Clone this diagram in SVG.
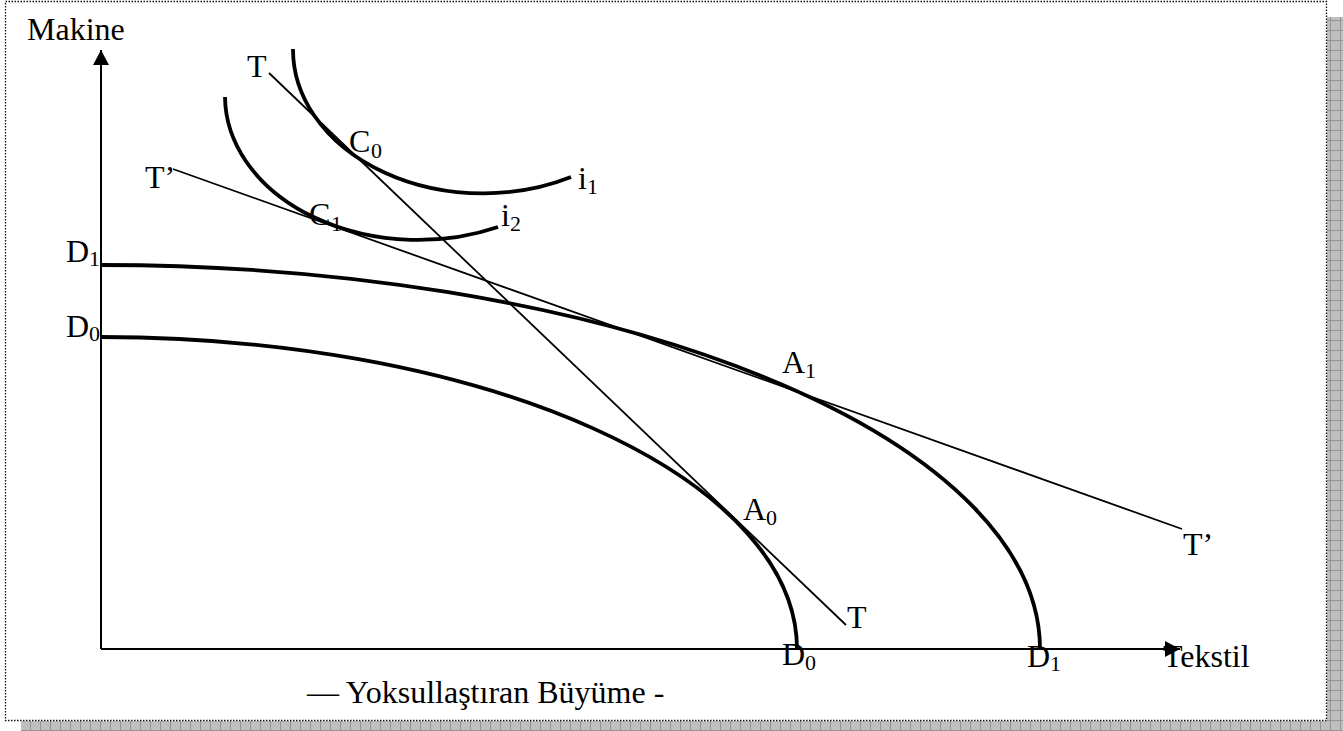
<svg xmlns="http://www.w3.org/2000/svg" width="1343" height="731" viewBox="0 0 1343 731">
<style>
text{font-family:"Liberation Serif","Times New Roman",serif;font-size:32px;fill:#000}
.sub{font-size:22px}
.curve{fill:none;stroke:#000;stroke-width:3.8}
.tline{fill:none;stroke:#000;stroke-width:1.8}
.axis{fill:none;stroke:#000;stroke-width:2}
</style>
<defs>
<pattern id="hatch" width="10" height="10" patternUnits="userSpaceOnUse">
<rect width="10" height="10" fill="#bfbfbf"/>
<path d="M0,0.5H10M0.5,0V10" stroke="#959595" stroke-width="1"/>
</pattern>
<marker id="arr" markerUnits="userSpaceOnUse" markerWidth="16" markerHeight="16" refX="15" refY="8" orient="auto">
<path d="M0,0L15,8L0,16z" fill="#000"/>
</marker>
</defs>
<rect width="1343" height="731" fill="#fff"/>
<g id="frame">
<rect x="1327" y="17" width="16" height="714" fill="url(#hatch)"/>
<rect x="21" y="721" width="1322" height="10" fill="url(#hatch)"/>
<rect x="5.5" y="1.5" width="1321" height="719" fill="none" stroke="#111" stroke-width="1.3" stroke-dasharray="1.5 1.5"/>
</g>
<g id="axes">
<path class="axis" d="M101,649V50" marker-end="url(#arr)"/>
<path class="axis" d="M101,649H1180" marker-end="url(#arr)"/>
</g>
<g id="connectors">
<path id="lineT" class="tline" d="M269,73L846,625"/>
<path id="lineTp" class="tline" d="M173,169L1182,529"/>
</g>
<g id="ppf-D1"><path class="curve" d="M101,265A939,384 0 0 1 1040,649"/></g>
<g id="ppf-D0"><path class="curve" d="M101,337A696,312 0 0 1 797,649"/></g>
<g id="i1"><path class="curve" d="M293,49A190,144 0 0 0 571,177"/></g>
<g id="i2"><path class="curve" d="M225,97A193,144 0 0 0 498,227"/></g>
<g id="labels">
<text x="27" y="40">Makine</text>
<text x="247" y="77">T</text>
<text x="145" y="188">T’</text>
<text x="349" y="152">C</text><text class="sub" x="371" y="158">0</text>
<text x="578" y="189">i</text><text class="sub" x="587" y="194">1</text>
<text x="309" y="225">C</text><text class="sub" x="331" y="231">1</text>
<text x="501" y="226">i</text><text class="sub" x="510" y="231">2</text>
<text x="66" y="262">D</text><text class="sub" x="89" y="266">1</text>
<text x="66" y="337">D</text><text class="sub" x="89" y="341">0</text>
<text x="782" y="373">A</text><text class="sub" x="805" y="378">1</text>
<text x="743" y="520">A</text><text class="sub" x="766" y="525">0</text>
<text x="847" y="628">T</text>
<text x="782" y="665">D</text><text class="sub" x="805" y="670">0</text>
<text x="1027" y="667">D</text><text class="sub" x="1050" y="671">1</text>
<text x="1163" y="667">Tekstil</text>
<text x="1183" y="555">T’</text>
<text x="307" y="703">— Yoksullaştıran Büyüme -</text>
</g>
</svg>
